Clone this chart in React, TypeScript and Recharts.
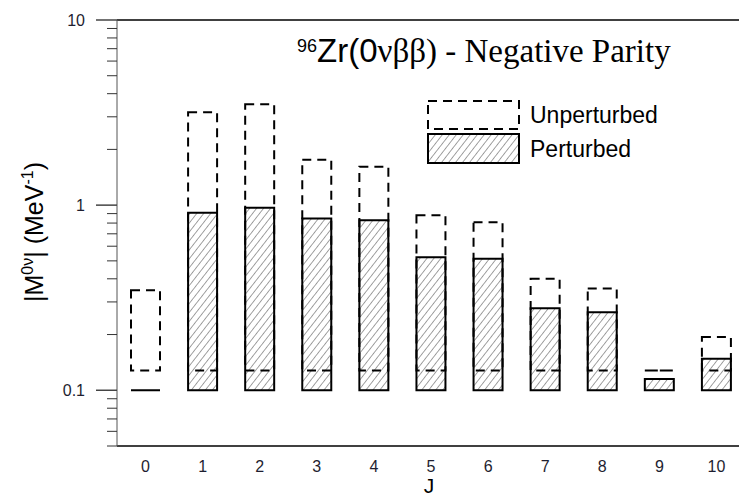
import { BarChart, Bar, XAxis, YAxis, ReferenceLine, Legend, Label } from "recharts";

// J multipoles on the x axis
const J_VALUES = ["0", "1", "2", "3", "4", "5", "6", "7", "8", "9", "10"];

// |M^0v| (MeV^-1)
const UNPERTURBED = [0.347, 3.17, 3.51, 1.76, 1.61, 0.882, 0.809, 0.4, 0.355, 0.128, 0.194];
const PERTURBED = [0.1, 0.909, 0.967, 0.846, 0.829, 0.523, 0.513, 0.277, 0.264, 0.115, 0.148];

// where each kind of bar starts
const UNPERTURBED_BASE = 0.128;
const PERTURBED_BASE = 0.1;

const Y_DOMAIN = [0.05, 10];
const MAJOR_TICKS = [0.1, 1, 10];
const MINOR_TICKS = [
  0.05, 0.06, 0.07, 0.08, 0.09,
  0.2, 0.3, 0.4, 0.5, 0.6, 0.7, 0.8, 0.9,
  2, 3, 4, 5, 6, 7, 8, 9,
];
const ALL_TICKS = [...MINOR_TICKS, ...MAJOR_TICKS].sort((a, b) => a - b);

const data = J_VALUES.map((j, i) => ({
  j,
  unperturbed: [UNPERTURBED_BASE, UNPERTURBED[i]],
  perturbed: [PERTURBED_BASE, PERTURBED[i]],
}));

const SANS = "'Liberation Sans', Arial, sans-serif";
const SERIF = "'Liberation Serif', 'Times New Roman', serif";
const TEXT_COLOR = "#1e1e30";

function rectPath(x: number, y: number, w: number, h: number) {
  return `M${x},${y}h${w}v${h}h${-w}Z`;
}

function PerturbedShape(props: any) {
  const { x, y, width, height } = props;
  return (
    <path
      d={rectPath(x, y, width, height)}
      fill="url(#hatch)"
      stroke="#000"
      strokeWidth={2}
    />
  );
}

function UnperturbedShape(props: any) {
  const { x, y, width, height } = props;
  return (
    <path
      d={rectPath(x, y, width, height)}
      fill="none"
      stroke="#000"
      strokeWidth={2}
      strokeDasharray="9 6"
    />
  );
}

function YTick(props: any) {
  const { x, y, payload } = props;
  const major = MAJOR_TICKS.includes(payload.value);
  return (
    <g>
      <line
        x1={major ? x : x + 11}
        x2={x + 21}
        y1={y}
        y2={y}
        stroke={major ? "#444" : "#333"}
        strokeWidth={major ? 1.5 : 1}
      />
      {major && (
        <text
          x={x - 11}
          y={y + 6}
          textAnchor="end"
          fontSize={16}
          fontFamily={SANS}
          fill={TEXT_COLOR}
        >
          {payload.value}
        </text>
      )}
    </g>
  );
}

function XTick(props: any) {
  const { x, y, payload } = props;
  return (
    <text
      x={x}
      y={y + 26}
      textAnchor="middle"
      fontSize={16}
      fontFamily={SANS}
      fill={TEXT_COLOR}
    >
      {payload.value}
    </text>
  );
}

function YAxisLabel(props: any) {
  const { viewBox } = props;
  const cx = viewBox.x + 43;
  const cy = viewBox.y + viewBox.height / 2 - 1;
  return (
    <text
      x={cx}
      y={cy}
      textAnchor="middle"
      fontSize={25}
      fontFamily={SANS}
      fill="#000"
      transform={`rotate(-90, ${cx}, ${cy})`}
    >
      <tspan>|M</tspan>
      <tspan fontSize={16} dy={-10}>0ν</tspan>
      <tspan dy={10}>| (MeV</tspan>
      <tspan fontSize={16} dy={-10}>-1</tspan>
      <tspan dy={10}>)</tspan>
    </text>
  );
}

function XAxisLabel(props: any) {
  const { viewBox } = props;
  return (
    <text
      x={viewBox.x + viewBox.width / 2 - 2}
      y={viewBox.y + 47}
      textAnchor="middle"
      fontSize={21}
      fontFamily={SANS}
      fill="#000"
    >
      J
    </text>
  );
}

function LegendContent() {
  return (
    <svg width={240} height={70} style={{ display: "block" }}>
      <rect
        x={1}
        y={1}
        width={91}
        height={28}
        fill="none"
        stroke="#000"
        strokeWidth={2}
        strokeDasharray="9 6"
      />
      <rect
        x={1}
        y={34}
        width={91}
        height={29}
        fill="url(#hatch)"
        stroke="#000"
        strokeWidth={2}
      />
      <text x={103} y={23} fontSize={23} fontFamily={SANS} fill="#000">
        Unperturbed
      </text>
      <text x={103} y={57} fontSize={23} fontFamily={SANS} fill="#000">
        Perturbed
      </text>
    </svg>
  );
}

export default function App() {
  return (
    <div
      style={{
        position: "absolute",
        left: 0,
        top: 0,
        width: 739,
        height: 498,
        overflow: "hidden",
        background: "#fff",
        fontFamily: SANS,
      }}
    >
      <BarChart
        width={760}
        height={498}
        data={data}
        margin={{ top: 20, right: 15, bottom: 0, left: 0 }}
        barGap={-29}
      >
        <defs>
          <pattern
            id="hatch"
            patternUnits="userSpaceOnUse"
            width={5.5}
            height={10}
            patternTransform="rotate(38)"
          >
            <rect width={5.5} height={10} fill="#fff" />
            <line x1={0} y1={0} x2={0} y2={10} stroke="#444" strokeWidth={1} />
          </pattern>
        </defs>
        <XAxis
          dataKey="j"
          type="category"
          interval={0}
          height={52}
          tickLine={false}
          tickSize={0}
          tickMargin={0}
          tick={<XTick />}
          axisLine={{ stroke: "#000", strokeWidth: 1.5 }}
        >
          <Label content={<XAxisLabel />} />
        </XAxis>
        <YAxis
          scale="log"
          domain={Y_DOMAIN}
          allowDataOverflow
          ticks={ALL_TICKS}
          interval={0}
          width={117}
          tickLine={false}
          tickSize={21}
          tickMargin={0}
          tick={<YTick />}
          axisLine={{ stroke: "#555", strokeWidth: 1 }}
        >
          <Label content={<YAxisLabel />} />
        </YAxis>
        <ReferenceLine y={10} stroke="#000" strokeWidth={1.5} />
        <Legend
          layout="vertical"
          align="center"
          verticalAlign="middle"
          wrapperStyle={{ left: 427, top: 100, width: 240, height: 70 }}
          content={<LegendContent />}
        />
        <Bar
          dataKey="perturbed"
          name="Perturbed"
          barSize={29}
          shape={<PerturbedShape />}
          isAnimationActive={false}
        />
        <Bar
          dataKey="unperturbed"
          name="Unperturbed"
          barSize={29}
          shape={<UnperturbedShape />}
          isAnimationActive={false}
        />
      </BarChart>
      <svg
        width={739}
        height={498}
        style={{ position: "absolute", left: 0, top: 0, pointerEvents: "none" }}
      >
        <text x={297} y={62} fontSize={33} fontFamily={SANS} fill="#000">
          <tspan fontSize={18} dy={-10}>96</tspan>
          <tspan dy={10}>Zr(0</tspan>
          <tspan fontFamily={SERIF}>νββ) - Negative Parity</tspan>
        </text>
      </svg>
    </div>
  );
}
